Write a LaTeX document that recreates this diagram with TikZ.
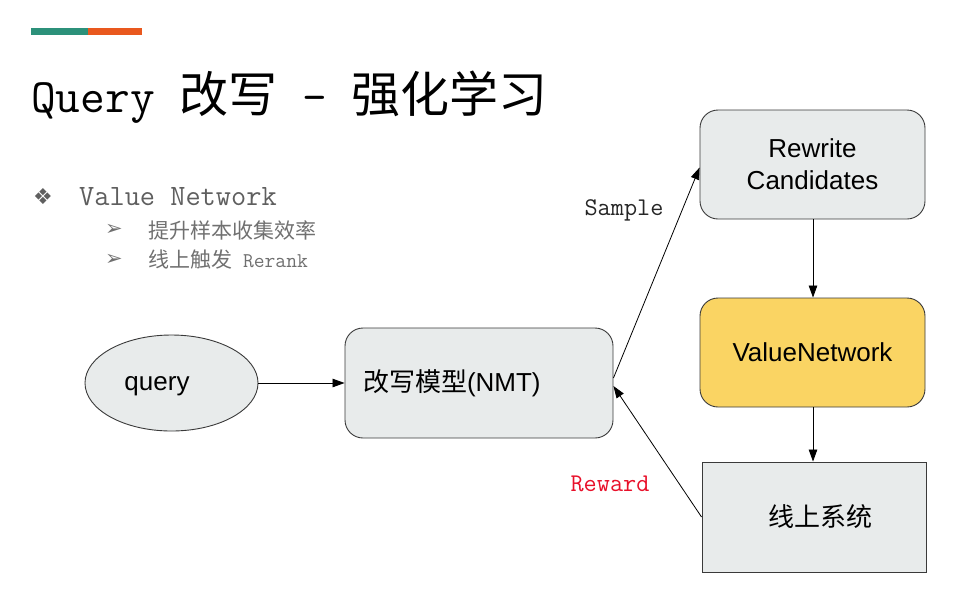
\documentclass[tikz,border=0pt]{standalone}
\usepackage{fontspec}
\setmainfont{Liberation Sans}
\newfontfamily\cjk{Noto Sans CJK SC}
\newfontfamily\sym{DejaVu Sans}
\usetikzlibrary{shapes.geometric,arrows.meta}
\definecolor{teal1}{HTML}{2C917A}
\definecolor{orange1}{HTML}{E9581E}
\definecolor{boxfill}{HTML}{E8EBEB}
\definecolor{boxline}{HTML}{3A3A3A}
\definecolor{yellow1}{HTML}{FAD463}
\definecolor{gray1}{HTML}{5F5F5F}
\definecolor{gray2}{HTML}{707070}
\definecolor{red1}{HTML}{E8102A}
\tikzset{
  box/.style={draw=boxline, line width=0.9pt, fill=boxfill, minimum width=225pt, minimum height=109pt, inner sep=0pt, font=\fontsize{26}{32}\selectfont, align=center},
  rbox/.style={box, rounded corners=18pt},
  arr/.style={-{Triangle[length=12pt,width=8.5pt]}, line width=0.8pt, black},
  lbl/.style={font=\ttfamily\fontsize{25.5}{25.5}\selectfont, inner sep=0pt},
}
\begin{document}
\begin{tikzpicture}[x=1pt,y=-1pt]
\useasboundingbox (0,0) rectangle (957,603);
% top bar
\fill[teal1] (31,28) rectangle (88,34.5);
\fill[orange1] (88,28) rectangle (142,34.5);
% title
\node[anchor=base west, inner sep=0pt] (title) at (31,112)
  {{\ttfamily\fontsize{48}{48}\selectfont Query~}{\cjk\fontsize{49}{49}\selectfont 改写}{\ttfamily\fontsize{48}{48}\selectfont ~-~}{\cjk\fontsize{49}{49}\selectfont 强化学习}};
% bullets
\node[anchor=base west, inner sep=0pt, text=gray1] (b1) at (33,204) {\sym\fontsize{22}{22}\selectfont ❖};
\node[anchor=base west, inner sep=0pt, text=gray1] (b1t) at (79,205) {\ttfamily\fontsize{29.5}{29.5}\selectfont Value Network};
\node[anchor=west, inner sep=0pt, text=gray2] (s1) at (105,230) {\sym\fontsize{21}{21}\selectfont ➢};
\node[anchor=west, inner sep=0pt, text=gray2] (s1t) at (148,230) {\cjk\fontsize{21}{21}\selectfont 提升样本收集效率};
\node[anchor=west, inner sep=0pt, text=gray2] (s2) at (105,260) {\sym\fontsize{21}{21}\selectfont ➢};
\node[anchor=west, inner sep=0pt, text=gray2] (s2t) at (148,260) {{\cjk\fontsize{21}{21}\selectfont 线上触发}{\ttfamily\fontsize{21}{21}\selectfont ~Rerank}};
% nodes
\node[draw=boxline, line width=0.9pt, fill=boxfill, ellipse, minimum width=173pt, minimum height=96pt, inner sep=0pt] (q) at (171.5,383) {};
\node[inner sep=0pt, font=\fontsize{26}{26}\selectfont] (qt) at (157,386) {query};
\node[rbox, minimum width=268pt, minimum height=110pt, text width=232pt, inner xsep=18pt, align=left] (nmt) at (479,383) {{\cjk 改写模型}(NMT)};
\node[rbox] (rw) at (812.5,164.5) {Rewrite\\Candidates};
\node[rbox, fill=yellow1] (vn) at (812.5,352.5) {ValueNetwork};
\node[box, minimum width=224pt, minimum height=110pt] (sys) at (814,517) {\hspace*{12pt}\cjk 线上系统};
% labels
\node[lbl, text=black!85] (sample) at (624,210) {Sample};
\node[lbl, text=red1] (reward) at (610,484) {Reward};
% connectors
\draw[arr] (q.east) -- (nmt.west);
\draw[arr] ([yshift=5pt]nmt.east) -- ([yshift=-3pt]rw.west);
\draw[arr] (rw.south -| 813,0) -- (vn.north -| 813,0);
\draw[arr] (vn.south -| 813,0) -- (sys.north -| 813,0);
\draw[arr] (sys.west) -- ([yshift=-3pt]nmt.east);
\end{tikzpicture}
\end{document}
